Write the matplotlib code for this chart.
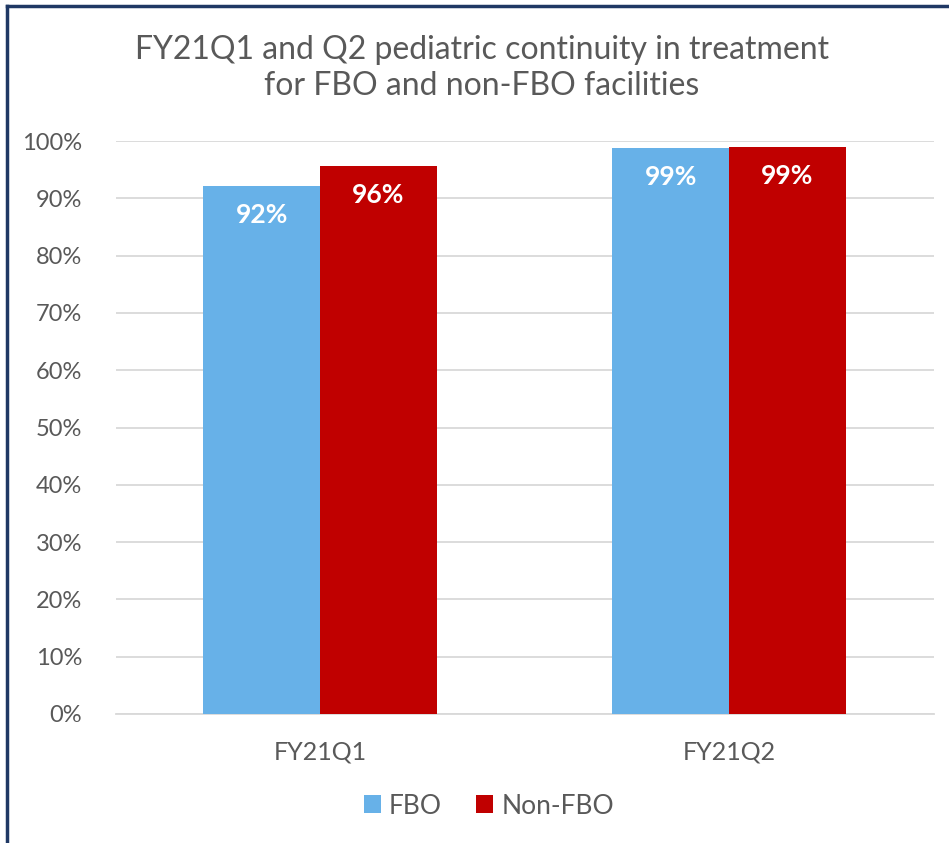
import matplotlib.pyplot as plt
import numpy as np
from matplotlib.lines import Line2D
from matplotlib.ticker import PercentFormatter

# data
quarters = ["FY21Q1", "FY21Q2"]
fbo = [92.1, 98.8]
non_fbo = [95.6, 98.9]
fbo_labels = ["92%", "99%"]
non_fbo_labels = ["96%", "99%"]

plt.rcParams['font.family'] = ['Lato', 'DejaVu Sans']
grey = "#595959"

fig = plt.figure(figsize=(9.49, 8.43), dpi=100)
ax = fig.add_axes([115.5 / 949, 1 - 714 / 843, (933.5 - 115.5) / 949, (714 - 141) / 843])

x = np.arange(len(quarters))
w = 0.285
b1 = ax.bar(x - w / 2, fbo, w, color="#67B1E8", label="FBO", zorder=3)
b2 = ax.bar(x + w / 2, non_fbo, w, color="#C00000", label="Non-FBO", zorder=3)

for bars, labels in [(b1, fbo_labels), (b2, non_fbo_labels)]:
    for bar, lab in zip(bars, labels):
        ax.text(bar.get_x() + bar.get_width() / 2, bar.get_height() - 5.0, lab,
                ha="center", va="center", color="white", fontsize=19,
                fontweight="bold", zorder=4)

ax.set_xlim(-0.5, 1.5)
ax.set_ylim(0, 100)
ax.set_yticks(np.arange(0, 101, 10))
ax.yaxis.set_major_formatter(PercentFormatter(decimals=0))
ax.set_xticks(x)
ax.set_xticklabels(quarters)
ax.grid(axis="y", color="#D9D9D9", linewidth=1.3, zorder=0)
for s in ["top", "right", "left"]:
    ax.spines[s].set_visible(False)
ax.spines["bottom"].set_color("#D9D9D9")
ax.spines["bottom"].set_linewidth(1.3)
ax.tick_params(axis="both", length=0, colors=grey)
ax.tick_params(axis="y", pad=24, labelsize=17)
ax.tick_params(axis="x", pad=19, labelsize=18)

fig.text(0.508, 1 - 68 / 843, "FY21Q1 and Q2 pediatric continuity in treatment\nfor FBO and non-FBO facilities",
         ha="center", va="center", fontsize=23, color=grey, linespacing=1.25)

leg = fig.legend(loc="center", bbox_to_anchor=(0.515, 1 - 806 / 843), ncol=2, frameon=False,
                 fontsize=19, handlelength=0.65, handleheight=0.65, handletextpad=0.3,
                 columnspacing=1.3)
for t in leg.get_texts():
    t.set_color(grey)

# dark border on top and left
fig.add_artist(Line2D([7 / 949, 7 / 949], [0, 1 - 6 / 843], color="#1F3864", linewidth=2.5))
fig.add_artist(Line2D([7 / 949, 1], [1 - 6 / 843, 1 - 6 / 843], color="#1F3864", linewidth=2.5))

fig.savefig("out.png", dpi=100)
